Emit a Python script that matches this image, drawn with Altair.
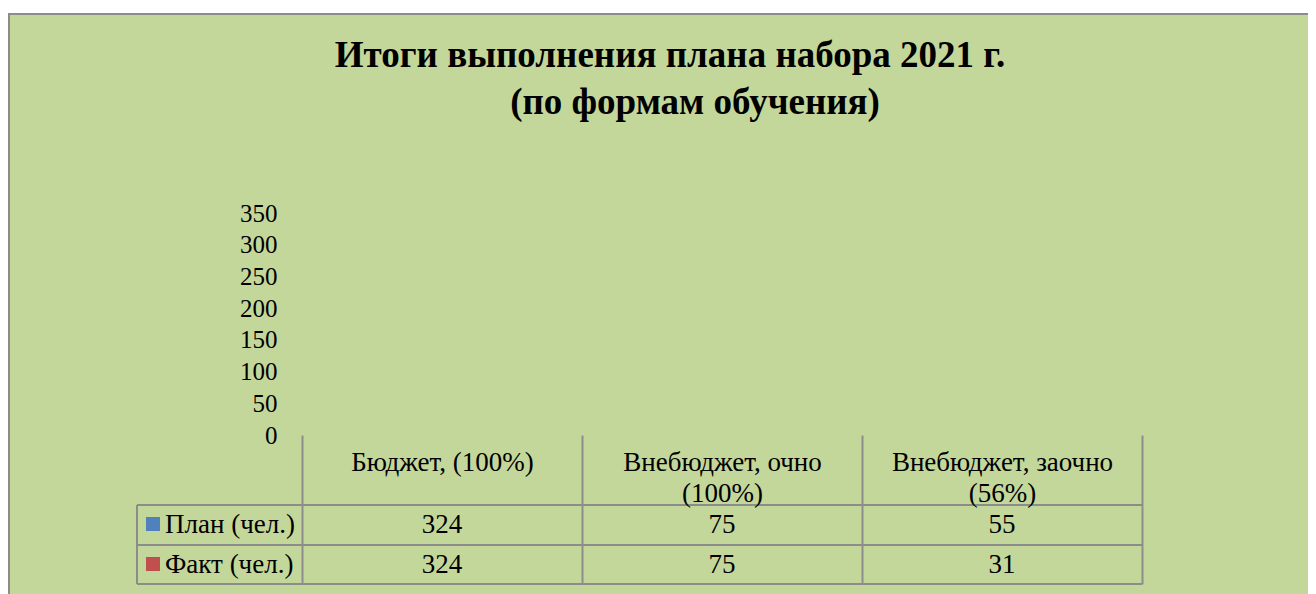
import altair as alt
import pandas as pd

# ---- data ----
categories = ["Бюджет, (100%)", "Внебюджет, очно\n(100%)", "Внебюджет, заочно\n(56%)"]
series = ["План (чел.)", "Факт (чел.)"]
plan_values = [324, 75, 55]
fact_values = [324, 75, 31]
series_colors = ["#4F81BD", "#C0504D"]
y_ticks = [0, 50, 100, 150, 200, 250, 300, 350]
title_lines = ["Итоги выполнения плана набора 2021 г.", "(по формам обучения)"]

# ---- styling ----
W, H = 840, 222
FONT = "Liberation Serif"
LINE = "#8C8C8C"
BG = "#C4D79B"
FS_AXIS = 25
FS_CAT = 27
FS_TABLE = 27
FS_TITLE = 37

rows = []
for i, c in enumerate(categories):
    rows.append({"cat": c, "series": series[0], "value": plan_values[i]})
    rows.append({"cat": c, "series": series[1], "value": fact_values[i]})
df = pd.DataFrame(rows)
ser_df = pd.DataFrame({"series": series})
one = pd.DataFrame({"k": [0]})

xscale = alt.Scale(domain=categories, paddingInner=0, paddingOuter=0)
x_axis = alt.Axis(
    title=None, domain=False, grid=False, ticks=True, tickBand="extent",
    tickSize=149, tickColor=LINE, tickWidth=2, labelAngle=0,
    labelExpr="split(datum.label, '\\n')", labelBaseline="top",
    labelPadding=-135, labelFont=FONT, labelFontSize=FS_CAT,
    labelColor="black", labelLineHeight=31, labelLimit=500,
    labelOverlap=False, labelFlush=False, zindex=1,
)
y_axis = alt.Axis(
    values=y_ticks, title=None, domain=False, ticks=False, tickSize=0,
    grid=False, labelPadding=25, labelFont=FONT, labelFontSize=FS_AXIS,
    labelColor="black", labelOverlap=False, labelFlush=False, zindex=1,
)
color_scale = alt.Scale(domain=series, range=series_colors)

# frame / background
frame = alt.Chart(one).mark_rect(fill=BG, stroke=LINE, strokeWidth=2).encode(
    x=alt.value(-293), x2=alt.value(1100), y=alt.value(-199), y2=alt.value(500)
)

# value axis carrier (bars are not drawn in the reference)
bars = alt.Chart(df).mark_bar(opacity=0).encode(
    x=alt.X("cat:N", scale=xscale, axis=x_axis, sort=categories),
    xOffset=alt.XOffset("series:N", sort=series),
    y=alt.Y("value:Q", scale=alt.Scale(domain=[0, 350], nice=False), axis=y_axis),
    color=alt.Color("series:N", scale=color_scale, legend=None),
)

layers = [frame, bars]

# title lines
title_df = pd.DataFrame({"t": title_lines})
title_pos = [(368, -157), (393, -110)]
for i, t in enumerate(title_lines):
    layers.append(
        alt.Chart(title_df[title_df.t == t]).mark_text(
            font=FONT, fontSize=FS_TITLE, fontWeight="bold", color="black",
            baseline="middle", align="center",
        ).encode(x=alt.value(title_pos[i][0]), y=alt.value(title_pos[i][1]), text="t:N")
    )

row_y = [312, 352]
for i, s in enumerate(series):
    layers.append(
        alt.Chart(df).transform_filter(alt.datum.series == s).mark_text(
            font=FONT, fontSize=FS_TABLE, color="black", baseline="middle"
        ).encode(
            x=alt.X("cat:N", scale=xscale, sort=categories),
            y=alt.value(row_y[i]),
            text="value:Q",
        )
    )
    sub = ser_df[ser_df.series == s]
    layers.append(
        alt.Chart(sub).mark_text(
            font=FONT, fontSize=FS_TABLE, color="black", baseline="middle", align="left"
        ).encode(x=alt.value(-137), y=alt.value(row_y[i]), text="series:N")
    )
    layers.append(
        alt.Chart(sub).mark_square(size=196, opacity=1, filled=True).encode(
            x=alt.value(-149), y=alt.value(row_y[i] - 1),
            color=alt.Color("series:N", scale=color_scale, legend=None),
        )
    )

for yy in [292, 332, 371]:
    layers.append(
        alt.Chart(one).mark_rule(color=LINE, strokeWidth=2).encode(
            x=alt.value(-165), x2=alt.value(W), y=alt.value(yy)
        )
    )
layers.append(
    alt.Chart(one).mark_rule(color=LINE, strokeWidth=2).encode(
        x=alt.value(-165), y=alt.value(292), y2=alt.value(371)
    )
)

chart = alt.layer(*layers).properties(
    width=W, height=H,
    padding={"left": 294, "top": 205, "right": 166, "bottom": 159},
    autosize=alt.AutoSizeParams(type="none"),
    background="white",
).configure_view(stroke=None)

chart.save("out.html", embed_options={"renderer": "svg", "actions": False})
